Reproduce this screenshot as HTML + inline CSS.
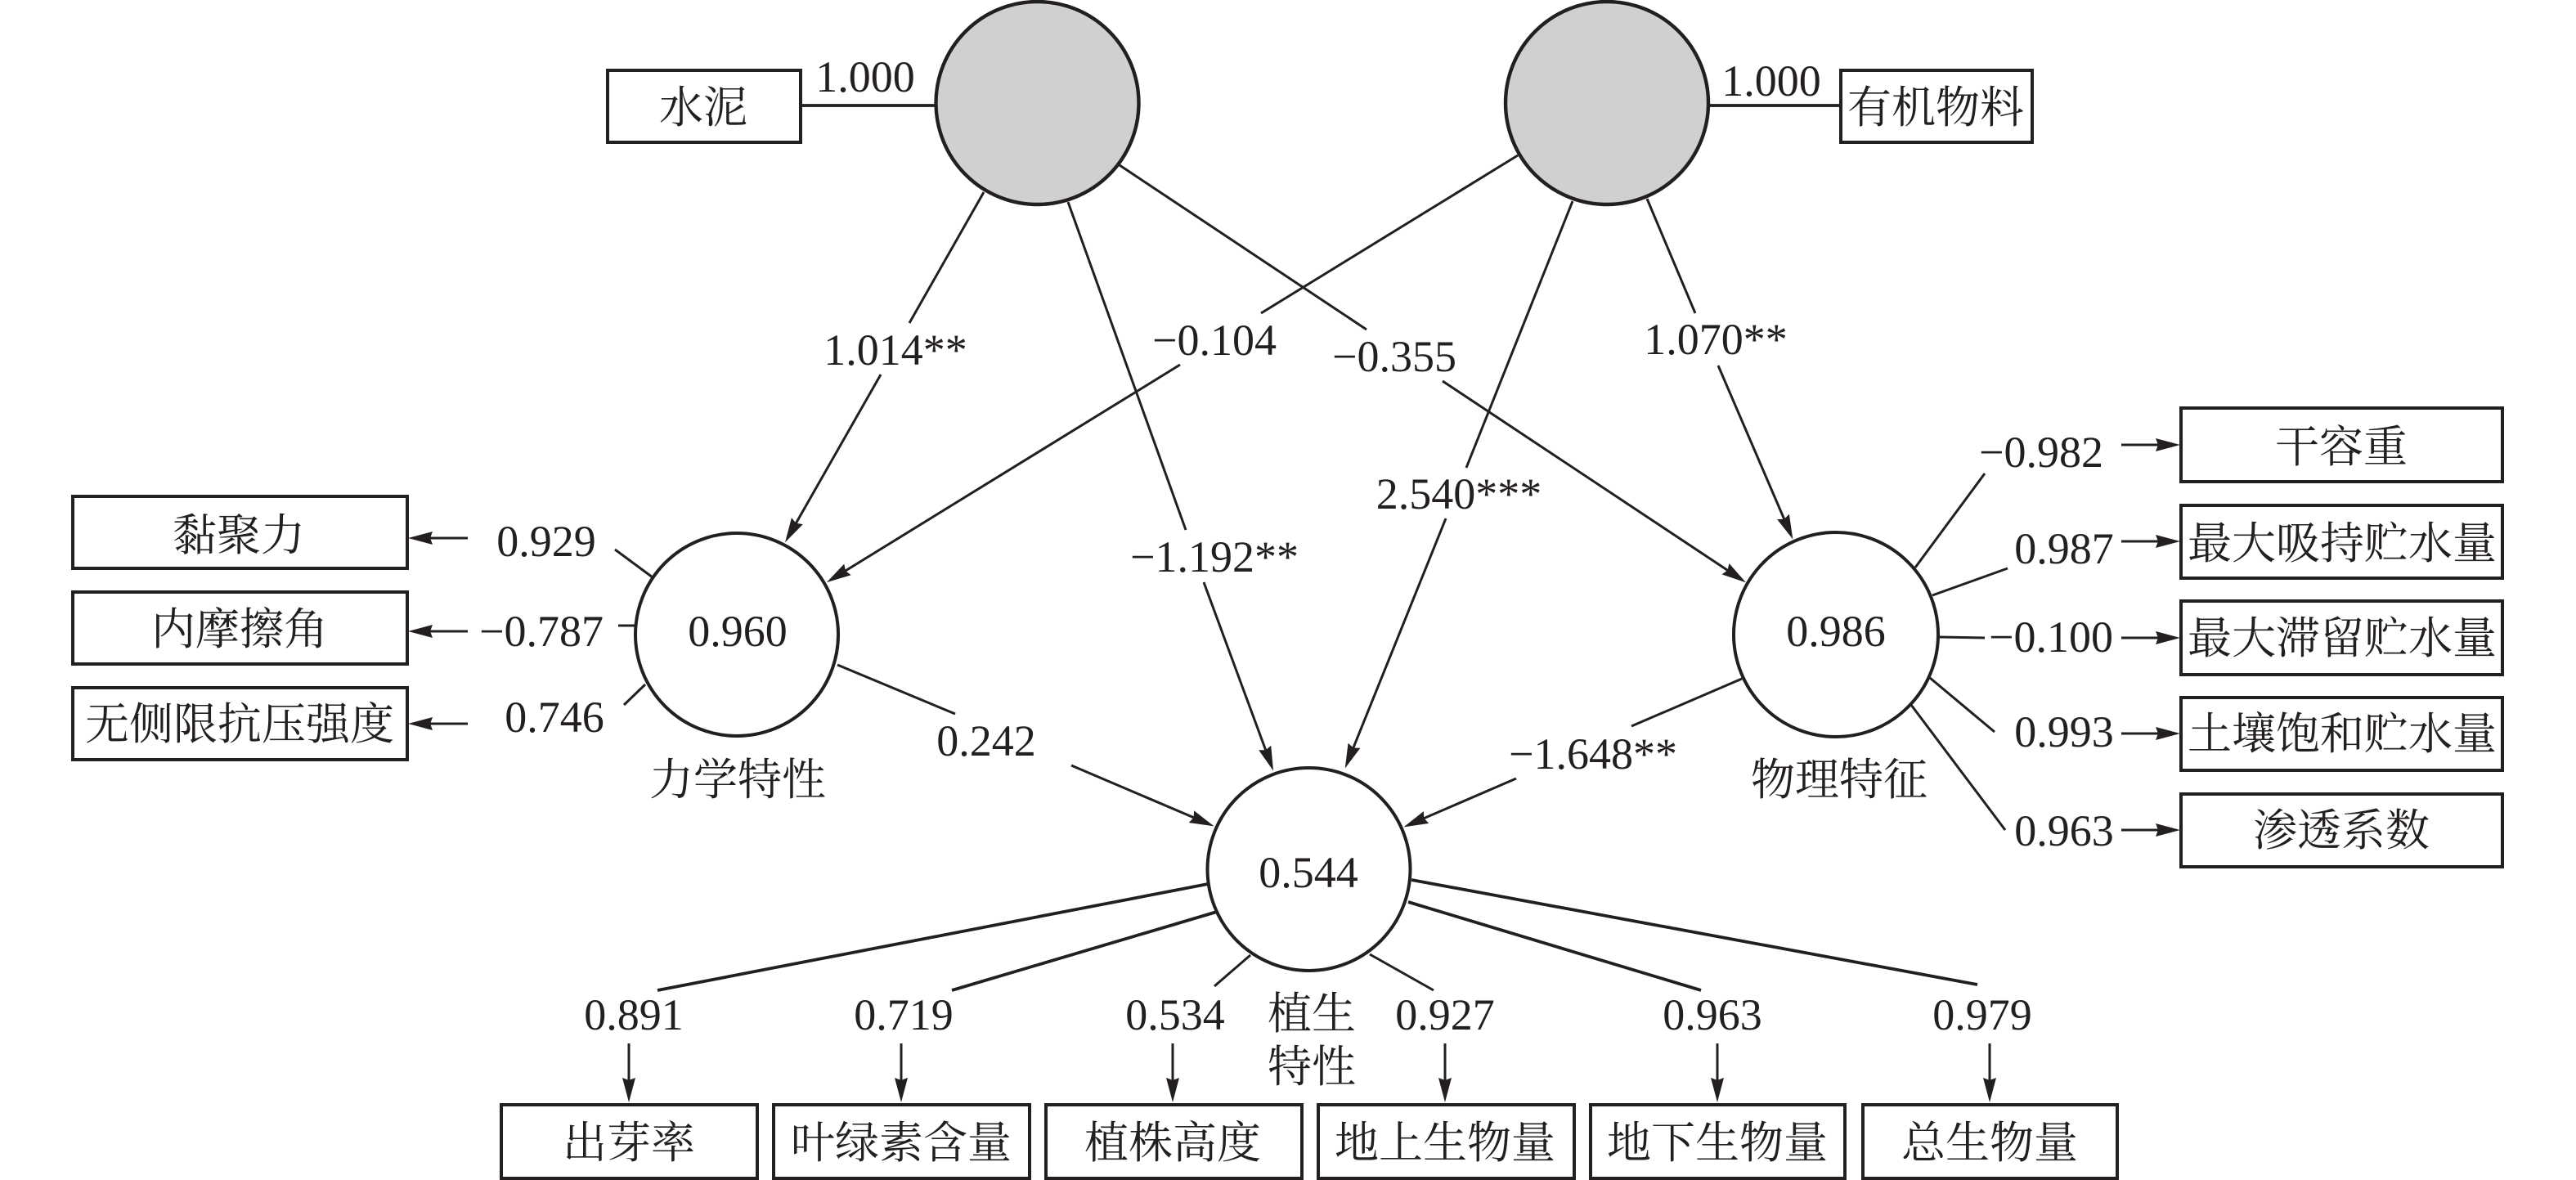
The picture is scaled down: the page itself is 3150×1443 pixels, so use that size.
<!DOCTYPE html>
<html lang="zh">
<head>
<meta charset="utf-8">
<title>结构方程模型</title>
<style>
html,body{margin:0;padding:0;background:#fff}
svg{display:block}
text{font-family:"Liberation Serif","Noto Serif CJK SC",serif;font-size:54px;fill:#231f20;text-anchor:middle}
.l{stroke:#231f20;stroke-width:3;fill:none}
.t{stroke:#231f20;stroke-width:3.8;fill:none}
.b{stroke:#231f20;stroke-width:4;fill:#fff}
.c{stroke:#231f20;stroke-width:4;fill:#fff}
.g{stroke:#231f20;stroke-width:4.4;fill:#d0d0d0}
</style>
</head>
<body>
<svg xmlns="http://www.w3.org/2000/svg" width="3150" height="1443" viewBox="0 0 3150 1443">
<defs>
<marker id="a" markerUnits="userSpaceOnUse" markerWidth="34" markerHeight="18" refX="24" refY="9" orient="auto">
<path d="M0,1 L30,9 L0,17 L3,9 z" fill="#231f20"/>
</marker>
</defs>

<!-- structural connectors -->
<line class="t" x1="979" y1="129" x2="1144" y2="129"/>
<line class="t" x1="2090" y1="129" x2="2250" y2="129"/>

<line class="l" x1="1203" y1="235" x2="1112" y2="395"/>
<line class="l" x1="1077" y1="458" x2="963" y2="658" marker-end="url(#a)"/>

<line class="l" x1="1306" y1="247" x2="1450" y2="648"/>
<line class="l" x1="1472" y1="712" x2="1555" y2="937" marker-end="url(#a)"/>

<line class="l" x1="1369" y1="202" x2="1671" y2="403"/>
<line class="l" x1="1764" y1="466" x2="2130" y2="709" marker-end="url(#a)"/>

<line class="l" x1="1856" y1="190" x2="1542" y2="383"/>
<line class="l" x1="1443" y1="446" x2="1016" y2="709" marker-end="url(#a)"/>

<line class="l" x1="1923" y1="246" x2="1793" y2="572"/>
<line class="l" x1="1768" y1="634" x2="1647" y2="934" marker-end="url(#a)"/>

<line class="l" x1="2014" y1="243" x2="2073" y2="383"/>
<line class="l" x1="2101" y1="447" x2="2190" y2="654" marker-end="url(#a)"/>

<line class="l" x1="1024" y1="813" x2="1168" y2="873"/>
<line class="l" x1="1310" y1="936" x2="1479" y2="1008" marker-end="url(#a)"/>

<line class="l" x1="2130" y1="830" x2="1995" y2="888"/>
<line class="l" x1="1854" y1="952" x2="1722" y2="1009" marker-end="url(#a)"/>

<!-- left spokes -->
<line class="l" x1="798" y1="706" x2="752" y2="672"/>
<line class="l" x1="778" y1="765" x2="756" y2="765"/>
<line class="l" x1="789" y1="837" x2="763" y2="862"/>
<line class="l" x1="572" y1="658" x2="505" y2="658" marker-end="url(#a)"/>
<line class="l" x1="572" y1="772" x2="505" y2="772" marker-end="url(#a)"/>
<line class="l" x1="572" y1="885" x2="505" y2="885" marker-end="url(#a)"/>

<!-- right spokes -->
<line class="l" x1="2342" y1="694" x2="2427" y2="579"/>
<line class="l" x1="2363" y1="728" x2="2455" y2="695"/>
<line class="l" x1="2371" y1="779" x2="2427" y2="780"/>
<line class="l" x1="2360" y1="829" x2="2439" y2="895"/>
<line class="l" x1="2337" y1="862" x2="2452" y2="1015"/>
<line class="l" x1="2594" y1="544" x2="2660" y2="544" marker-end="url(#a)"/>
<line class="l" x1="2594" y1="662" x2="2660" y2="662" marker-end="url(#a)"/>
<line class="l" x1="2594" y1="780" x2="2660" y2="780" marker-end="url(#a)"/>
<line class="l" x1="2594" y1="897" x2="2660" y2="897" marker-end="url(#a)"/>
<line class="l" x1="2594" y1="1015" x2="2660" y2="1015" marker-end="url(#a)"/>

<!-- bottom spokes -->
<line class="t" x1="1477" y1="1081" x2="804" y2="1211"/>
<line class="t" x1="1488" y1="1115" x2="1164" y2="1211"/>
<line class="l" x1="1529" y1="1168" x2="1485" y2="1206"/>
<line class="l" x1="1675" y1="1167" x2="1753" y2="1211"/>
<line class="t" x1="1722" y1="1103" x2="2080" y2="1211"/>
<line class="t" x1="1726" y1="1076" x2="2418" y2="1204"/>
<line class="l" x1="769" y1="1276" x2="769" y2="1342" marker-end="url(#a)"/>
<line class="l" x1="1102" y1="1276" x2="1102" y2="1342" marker-end="url(#a)"/>
<line class="l" x1="1434" y1="1276" x2="1434" y2="1342" marker-end="url(#a)"/>
<line class="l" x1="1767" y1="1276" x2="1767" y2="1342" marker-end="url(#a)"/>
<line class="l" x1="2100" y1="1276" x2="2100" y2="1342" marker-end="url(#a)"/>
<line class="l" x1="2433" y1="1276" x2="2433" y2="1342" marker-end="url(#a)"/>

<!-- circles -->
<circle class="g" cx="1268.5" cy="126" r="124"/>
<circle class="g" cx="1965" cy="126" r="124"/>
<circle class="c" cx="901" cy="776" r="124"/>
<circle class="c" cx="2245" cy="776" r="125"/>
<circle class="c" cx="1600.5" cy="1063" r="124"/>

<!-- boxes -->
<rect class="b" x="743" y="86" width="236" height="88"/>
<rect class="b" x="2251" y="86" width="234" height="88"/>
<rect class="b" x="89" y="607" width="409" height="88"/>
<rect class="b" x="89" y="724" width="409" height="88"/>
<rect class="b" x="89" y="841" width="409" height="88"/>
<rect class="b" x="2667" y="499" width="393" height="90"/>
<rect class="b" x="2667" y="618" width="393" height="89"/>
<rect class="b" x="2667" y="735" width="393" height="90"/>
<rect class="b" x="2667" y="853" width="393" height="89"/>
<rect class="b" x="2667" y="971" width="393" height="89"/>
<rect class="b" x="613" y="1351" width="313" height="90"/>
<rect class="b" x="946" y="1351" width="313" height="90"/>
<rect class="b" x="1279" y="1351" width="313" height="90"/>
<rect class="b" x="1612" y="1351" width="313" height="90"/>
<rect class="b" x="1945" y="1351" width="311" height="90"/>
<rect class="b" x="2278" y="1351" width="311" height="90"/>

<!-- box labels -->
<text x="860" y="150">水泥</text>
<text x="2367" y="150">有机物料</text>
<text x="292" y="673">黏聚力</text>
<text x="293" y="788">内摩擦角</text>
<text x="293" y="904">无侧限抗压强度</text>
<text x="2863" y="565">干容重</text>
<text x="2864" y="683">最大吸持贮水量</text>
<text x="2864" y="799">最大滞留贮水量</text>
<text x="2864" y="916">土壤饱和贮水量</text>
<text x="2863" y="1034">渗透系数</text>
<text x="769" y="1416">出芽率</text>
<text x="1102" y="1416">叶绿素含量</text>
<text x="1434" y="1416">植株高度</text>
<text x="1767" y="1416">地上生物量</text>
<text x="2100" y="1416">地下生物量</text>
<text x="2433" y="1416">总生物量</text>

<!-- latent names -->
<text x="902" y="972">力学特性</text>
<text x="2249" y="972">物理特征</text>
<text x="1604" y="1258">植生</text>
<text x="1604" y="1323">特性</text>

<!-- latent values -->
<text x="902" y="790">0.960</text>
<text x="2245" y="790">0.986</text>
<text x="1600" y="1085">0.544</text>

<!-- path coefficients -->
<text x="1058" y="112">1.000</text>
<text x="2166" y="117">1.000</text>
<text x="1095" y="446">1.014**</text>
<text x="1485" y="434">−0.104</text>
<text x="1705" y="454">−0.355</text>
<text x="2098" y="433">1.070**</text>
<text x="1784" y="622">2.540***</text>
<text x="1485" y="699">−1.192**</text>
<text x="1206" y="924">0.242</text>
<text x="1948" y="940">−1.648**</text>

<!-- loadings left -->
<text x="668" y="680">0.929</text>
<text x="662" y="790">−0.787</text>
<text x="678" y="895">0.746</text>

<!-- loadings right -->
<text x="2496" y="571">−0.982</text>
<text x="2524" y="689">0.987</text>
<text x="2508" y="797">−0.100</text>
<text x="2524" y="913">0.993</text>
<text x="2524" y="1034">0.963</text>

<!-- loadings bottom -->
<text x="775" y="1259">0.891</text>
<text x="1105" y="1259">0.719</text>
<text x="1437" y="1259">0.534</text>
<text x="1767" y="1259">0.927</text>
<text x="2094" y="1259">0.963</text>
<text x="2424" y="1259">0.979</text>
</svg>
</body>
</html>
